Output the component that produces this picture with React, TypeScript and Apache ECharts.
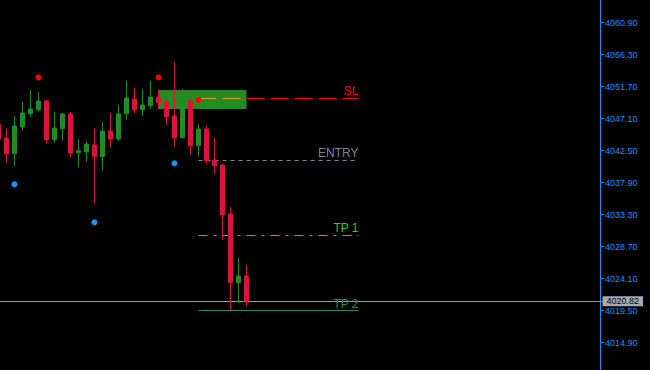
import React, { useEffect, useRef } from 'react';
import * as echarts from 'echarts';

// bar slots on the time axis (only the first 32 hold candles)
const categories: string[] = Array.from({ length: 76 }, (_, i) => String(i));

const opens = [
  4046.31, 4044.30, 4042.04, 4045.88, 4047.79, 4048.37, 4049.62, 4044.05,
  4045.63, 4047.75, 4042.18, 4042.33, 4043.29, 4041.61, 4045.30, 4044.15,
  4047.79, 4049.90, 4048.37, 4048.94, 4050.19, 4049.47, 4047.46, 4044.34,
  4049.62, 4043.19, 4045.59, 4041.13, 4040.42, 4033.37, 4023.50, 4024.46,
];
const closes = [
  4044.15, 4042.04, 4046.02, 4047.89, 4048.47, 4049.62, 4044.05, 4045.73,
  4047.75, 4042.14, 4042.47, 4043.43, 4041.61, 4045.30, 4044.15, 4047.75,
  4050.05, 4048.37, 4049.04, 4050.19, 4049.37, 4047.36, 4044.34, 4049.51,
  4043.19, 4045.59, 4041.03, 4040.32, 4033.23, 4023.50, 4024.46, 4020.82,
];
const lows = [
  4043.72, 4040.75, 4040.27, 4045.35, 4047.36, 4048.08, 4043.48, 4043.62,
  4043.91, 4041.61, 4040.03, 4040.89, 4034.85, 4039.60, 4042.90, 4043.87,
  4046.88, 4047.89, 4047.46, 4048.47, 4048.37, 4046.17, 4043.05, 4044.20,
  4041.90, 4041.61, 4040.60, 4039.17, 4029.63, 4019.47, 4020.62, 4020.15,
];
const highs = [
  4046.88, 4045.59, 4047.46, 4049.47, 4051.20, 4050.91, 4049.80, 4048.08,
  4047.89, 4048.03, 4044.15, 4043.91, 4045.69, 4046.60, 4047.89, 4049.04,
  4052.49, 4051.48, 4051.34, 4052.49, 4051.20, 4049.90, 4055.22, 4051.34,
  4049.90, 4046.31, 4046.02, 4044.30, 4040.56, 4034.38, 4027.05, 4026.04,
];

const upFractalIdx = [5, 20, 25];
const upFractalVal = [4053.02, 4053.02, 4049.76];
const downFractalIdx = [2, 12, 22];
const downFractalVal = [4037.64, 4032.18, 4040.66];

const levelNames = ['SL', 'ENTRY', 'TP 1', 'TP 2'];
const levelValues = [4050.0, 4041.1, 4030.3, 4019.5];
const levelStart = 25;
const levelEnd = 45;

const zoneStart = 20;
const zoneEnd = 31;
const zoneTop = 4051.2;
const zoneBottom = 4048.47;

const currentPrice = 4020.82;

const axisMin = 4010.3;
const axisMax = 4065.5;
const axisStep = 4.6;

const FONT = 'Liberation Sans, Arial, sans-serif';

export default function App() {
  const ref = useRef<HTMLDivElement | null>(null);

  useEffect(() => {
    document.body.style.margin = '0';
    document.body.style.background = '#000';
    if (!ref.current) return;
    const chart = echarts.init(ref.current, undefined, { renderer: 'svg' });

    const candleData = opens.map((o, i) => [o, closes[i], lows[i], highs[i]]);

    const levelColors = ['#FF0000', '#778899', '#32CD32', '#2E8B57'];
    const levelDash: any[] = [[18, 6], [4, 4], [9, 6, 3, 6], 'solid'];

    const levelLines: any[] = levelValues.map((v, k) => [
      {
        coord: [levelStart, v],
        lineStyle: { color: levelColors[k], width: 1, type: levelDash[k] },
        label: {
          show: true,
          position: 'insideEndTop',
          distance: [0, 1],
          formatter: levelNames[k],
          color: levelColors[k],
          fontFamily: FONT,
          fontSize: 12,
        },
      },
      { coord: [levelEnd, v] },
    ]);
    // SL segment over the zone shows orange
    levelLines.push([
      {
        coord: [levelStart, levelValues[0]],
        lineStyle: { color: '#D49A2A', width: 1, type: [18, 6] },
        label: { show: false },
      },
      { coord: [zoneEnd, levelValues[0]] },
    ]);

    const option: any = {
      animation: false,
      backgroundColor: '#000000',
      grid: {
        left: -5.5,
        top: -9.5,
        width: 608,
        height: 384,
        containLabel: false,
        outerBoundsMode: 'none',
      },
      xAxis: {
        type: 'category',
        data: categories,
        show: false,
        boundaryGap: true,
      },
      yAxis: {
        type: 'value',
        position: 'right',
        offset: -2.5,
        min: axisMin,
        max: axisMax,
        interval: axisStep,
        axisLine: { show: true, lineStyle: { color: '#1E90FF', width: 1 } },
        axisTick: { show: true, length: 4, lineStyle: { color: '#1E90FF' } },
        axisLabel: {
          color: '#1E90FF',
          fontFamily: FONT,
          fontSize: 9,
          margin: 5,
          showMinLabel: false,
          showMaxLabel: false,
          formatter: (v: number) => v.toFixed(2),
        },
        splitLine: { show: false },
      },
      series: [
        {
          type: 'candlestick',
          data: candleData,
          barWidth: 4,
          z: 3,
          itemStyle: {
            color: '#228B22',
            color0: '#DC143C',
            borderColor: '#228B22',
            borderColor0: '#DC143C',
            borderWidth: 1,
          },
          markArea: {
            silent: true,
            z: 1,
            itemStyle: { color: '#228B22', opacity: 1 },
            data: [[
              { coord: [zoneStart, zoneTop] },
              { coord: [zoneEnd, zoneBottom] },
            ]],
          },
          markLine: {
            silent: true,
            z: 2,
            symbol: ['none', 'none'],
            data: [
              ...levelLines,
              {
                yAxis: currentPrice,
                lineStyle: { color: '#9A9A9A', width: 1, type: 'solid' },
                label: {
                  show: true,
                  position: 'end',
                  distance: 0,
                  formatter: currentPrice.toFixed(2),
                  color: '#000000',
                  backgroundColor: '#A4ABB3',
                  padding: [1, 4, 0, 4],
                  fontFamily: FONT,
                  fontSize: 9,
                },
              },
            ],
          },
        },
        {
          type: 'scatter',
          z: 4,
          symbol: 'circle',
          symbolSize: 6,
          itemStyle: { color: '#FF0000', opacity: 1 },
          data: upFractalIdx.map((x, i) => [x, upFractalVal[i]]),
        },
        {
          type: 'scatter',
          z: 4,
          symbol: 'circle',
          symbolSize: 6,
          itemStyle: { color: '#1E90FF', opacity: 1 },
          data: downFractalIdx.map((x, i) => [x, downFractalVal[i]]),
        },
      ],
    };

    chart.setOption(option);
    return () => {
      chart.dispose();
    };
  }, []);

  return <div ref={ref} style={{ width: 650, height: 370, background: '#000' }} />;
}
